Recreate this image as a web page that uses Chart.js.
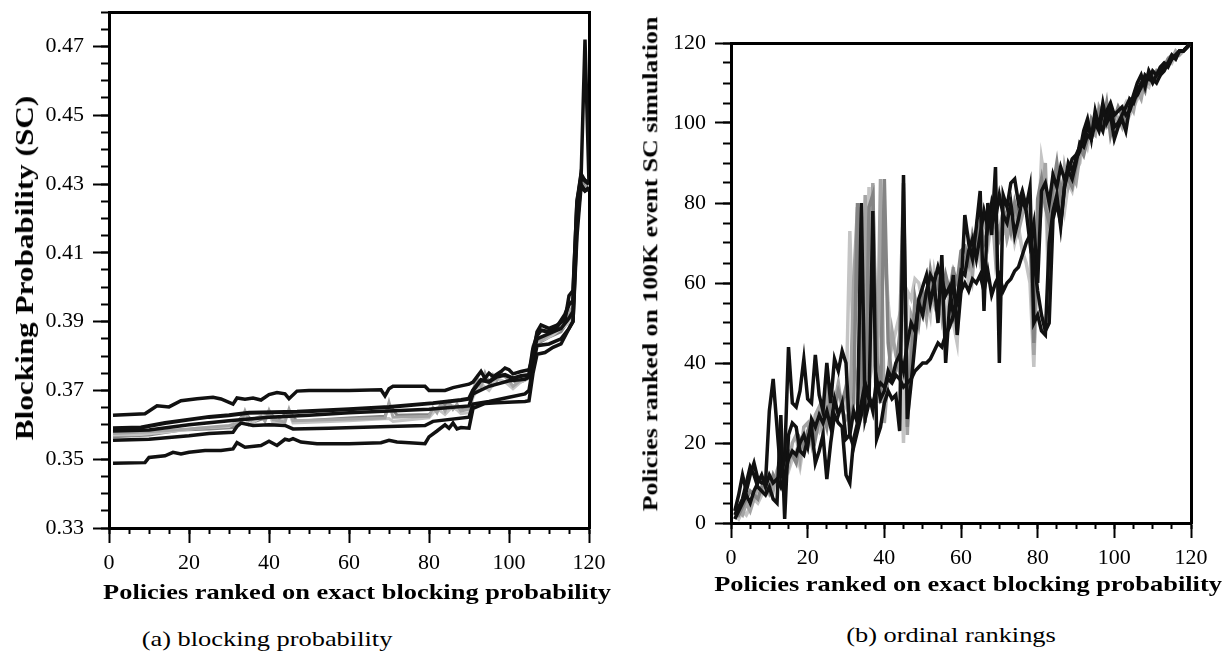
<!DOCTYPE html>
<html>
<head>
<meta charset="utf-8">
<script src="https://cdn.jsdelivr.net/npm/chart.js@4.4.1/dist/chart.umd.min.js"></script>
<style>
  html, body { margin: 0; padding: 0; background: #fff; }
  body { width: 1228px; height: 651px; position: relative; overflow: hidden; }
  canvas { position: absolute; top: 0; }
  #chartA { left: 0; }
  #chartB { left: 620px; }
  .ttl { position: absolute; white-space: nowrap; line-height: 1; color: #000;
         font-family: 'Liberation Serif', 'Times New Roman', serif; }
  .bold { font-weight: bold; font-size: 22px; }
  .cap { font-size: 22px; }
  .hz { transform: translate(-50%, 0) scaleX(1.2); }
  .rot { transform: translate(-50%, -50%) rotate(-90deg) scaleX(1.2); }
</style>
</head>
<body>
<canvas id="chartA" width="620" height="610"></canvas>
<canvas id="chartB" width="608" height="610"></canvas>

<div class="ttl bold rot" style="left:25px; top:268px; font-size:26px;">Blocking Probability (SC)</div>
<div class="ttl bold hz" style="left:357px; top:581px;">Policies ranked on exact blocking probability</div>
<div class="ttl cap hz" style="left:267px; top:628px;">(a) blocking probability</div>

<div class="ttl bold rot" style="left:651px; top:264px; font-size:21.5px;">Policies ranked on 100K event SC simulation</div>
<div class="ttl bold hz" style="left:968px; top:573px;">Policies ranked on exact blocking probability</div>
<div class="ttl cap hz" style="left:951px; top:624px;">(b) ordinal rankings</div>

<script>
// ── palette / fonts ─────────────────────────────────────────────
const INK   = "#000";
const BLACK = "#111";
const GRAY1 = "#c4c4c4";
const GRAY2 = "#a4a4a4";
const GRAY3 = "#848484";
const FONT  = "'Liberation Serif', 'Times New Roman', serif";

// ── (a) blocking probability: breakpoints ────────────────────────
const BP_Y_TICKS = [0.33, 0.35, 0.37, 0.39, 0.41, 0.43, 0.45, 0.47];

const upperX = [1, 9, 12, 15, 18, 22, 26, 28, 31, 32, 34, 36, 38, 40, 42, 44, 45, 47, 50, 60, 68, 69, 70, 71, 72, 79, 80, 84, 86, 90, 91, 93, 94, 95, 96, 98, 99, 100, 101, 103, 105, 106, 107, 108, 110, 112, 114, 115, 116, 117, 118, 119, 120];
const upperY = [0.3628, 0.3632, 0.3655, 0.3652, 0.3670, 0.3676, 0.3680, 0.3675, 0.3660, 0.3678, 0.3674, 0.3678, 0.3672, 0.3688, 0.3694, 0.3690, 0.3676, 0.3698, 0.3700, 0.3700, 0.3702, 0.3684, 0.3705, 0.3712, 0.3712, 0.3712, 0.3700, 0.3700, 0.3708, 0.3718, 0.3724, 0.3755, 0.3735, 0.3750, 0.3740, 0.3755, 0.3765, 0.3760, 0.3748, 0.3755, 0.3760, 0.3800, 0.3870, 0.3890, 0.3880, 0.3890, 0.3905, 0.3975, 0.3990, 0.4250, 0.4330, 0.4310, 0.4300];

const lowerX = [1, 9, 10, 14, 16, 18, 20, 24, 28, 31, 32, 34, 38, 40, 42, 44, 45, 46, 48, 52, 60, 68, 70, 72, 79, 80, 82, 84, 85, 86, 87, 88, 90, 91, 94, 97, 101, 104, 105, 106, 107, 109, 111, 113, 115, 116, 117, 118, 119, 120];
const lowerY = [0.3488, 0.3490, 0.3505, 0.3510, 0.3520, 0.3515, 0.3520, 0.3525, 0.3525, 0.3530, 0.3548, 0.3535, 0.3540, 0.3552, 0.3540, 0.3558, 0.3555, 0.3560, 0.3550, 0.3545, 0.3545, 0.3548, 0.3555, 0.3550, 0.3545, 0.3565, 0.3582, 0.3600, 0.3590, 0.3605, 0.3588, 0.3592, 0.3590, 0.3648, 0.3662, 0.3664, 0.3666, 0.3668, 0.3670, 0.3750, 0.3805, 0.3810, 0.3825, 0.3835, 0.3880, 0.3900, 0.4150, 0.4290, 0.4280, 0.4285];

const mid1X = [1, 8, 14, 20, 25, 30, 35, 47, 60, 70, 81, 88, 90, 91, 93, 95, 97, 99, 101, 103, 105, 106, 107, 108, 110, 112, 114, 115, 116, 117, 118, 119, 120];
const mid1Y = [0.3590, 0.3592, 0.3605, 0.3615, 0.3623, 0.3628, 0.3635, 0.3638, 0.3645, 0.3652, 0.3663, 0.3672, 0.3676, 0.3700, 0.3730, 0.3725, 0.3740, 0.3745, 0.3735, 0.3742, 0.3745, 0.3820, 0.3860, 0.3875, 0.3870, 0.3885, 0.3920, 0.3950, 0.3960, 0.4240, 0.4320, 0.4310, 0.4300];

const mid2X = [1, 10, 20, 30, 40, 50, 60, 70, 80, 90, 91, 95, 100, 104, 105, 106, 107, 109, 111, 113, 115, 116, 117, 118, 119, 120];
const mid2Y = [0.3582, 0.3585, 0.3600, 0.3612, 0.3622, 0.3628, 0.3635, 0.3640, 0.3645, 0.3655, 0.3690, 0.3712, 0.3728, 0.3732, 0.3738, 0.3800, 0.3850, 0.3860, 0.3870, 0.3880, 0.3910, 0.3930, 0.4200, 0.4310, 0.4720, 0.4300];

const mid3X = [1, 10, 20, 25, 31, 32, 33, 36, 40, 44, 46, 55, 70, 79, 81, 90, 91, 95, 100, 104, 105, 106, 107, 110, 113, 115, 116, 117, 118, 119, 120];
const mid3Y = [0.3555, 0.3558, 0.3568, 0.3575, 0.3578, 0.3595, 0.3605, 0.3598, 0.3600, 0.3598, 0.3588, 0.3590, 0.3595, 0.3598, 0.3610, 0.3622, 0.3660, 0.3668, 0.3680, 0.3690, 0.3700, 0.3770, 0.3830, 0.3835, 0.3850, 0.3880, 0.3900, 0.4180, 0.4300, 0.4280, 0.4290];

const grayAX = [1, 10, 20, 30, 33, 34, 35, 38, 39, 40, 41, 44, 45, 46, 55, 69, 70, 71, 80, 81, 82, 83, 84, 85, 86, 87, 88, 90, 91, 92, 93, 94, 95, 96, 97, 98, 99, 100, 101, 103, 105, 106, 107, 108, 110, 112, 114, 115, 116, 117, 118, 119, 120];
const grayAY = [0.3575, 0.3580, 0.3588, 0.3598, 0.3605, 0.3640, 0.3612, 0.3625, 0.3610, 0.3642, 0.3615, 0.3608, 0.3645, 0.3612, 0.3615, 0.3620, 0.3665, 0.3622, 0.3625, 0.3650, 0.3635, 0.3662, 0.3640, 0.3665, 0.3645, 0.3660, 0.3640, 0.3645, 0.3700, 0.3735, 0.3710, 0.3750, 0.3720, 0.3745, 0.3730, 0.3752, 0.3740, 0.3728, 0.3712, 0.3730, 0.3740, 0.3830, 0.3850, 0.3845, 0.3860, 0.3875, 0.3900, 0.3925, 0.3945, 0.4260, 0.4300, 0.4290, 0.4310];

const grayBX = [1, 8, 15, 22, 30, 34, 35, 37, 40, 41, 43, 45, 46, 60, 70, 71, 80, 82, 84, 86, 88, 90, 91, 93, 95, 97, 99, 101, 103, 105, 106, 107, 109, 111, 113, 115, 116, 117, 118, 119, 120];
const grayBY = [0.3570, 0.3572, 0.3580, 0.3590, 0.3595, 0.3625, 0.3600, 0.3615, 0.3632, 0.3605, 0.3610, 0.3635, 0.3605, 0.3612, 0.3618, 0.3610, 0.3620, 0.3648, 0.3630, 0.3655, 0.3632, 0.3635, 0.3680, 0.3720, 0.3700, 0.3735, 0.3725, 0.3705, 0.3725, 0.3735, 0.3810, 0.3840, 0.3850, 0.3862, 0.3880, 0.3895, 0.3915, 0.4230, 0.4300, 0.4280, 0.4300];

const grayCX = [1, 10, 18, 25, 31, 34, 36, 39, 40, 42, 45, 47, 60, 69, 70, 72, 80, 83, 85, 87, 90, 91, 94, 96, 98, 100, 102, 104, 105, 106, 107, 110, 113, 115, 116, 117, 118, 119, 120];
const grayCY = [0.3565, 0.3570, 0.3585, 0.3588, 0.3592, 0.3635, 0.3608, 0.3620, 0.3638, 0.3612, 0.3640, 0.3610, 0.3620, 0.3625, 0.3660, 0.3628, 0.3630, 0.3655, 0.3660, 0.3645, 0.3650, 0.3690, 0.3740, 0.3715, 0.3745, 0.3740, 0.3720, 0.3730, 0.3738, 0.3815, 0.3835, 0.3855, 0.3870, 0.3905, 0.3935, 0.4250, 0.4320, 0.4300, 0.4310];

// ── (b) ordinal rankings: one value per policy rank ──────────────
const RANK = [
  1, 2, 3, 4, 5, 6, 7, 8, 9, 10, 11, 12, 13, 14, 15, 16, 17, 18, 19, 20,
  21, 22, 23, 24, 25, 26, 27, 28, 29, 30, 31, 32, 33, 34, 35, 36, 37, 38, 39, 40,
  41, 42, 43, 44, 45, 46, 47, 48, 49, 50, 51, 52, 53, 54, 55, 56, 57, 58, 59, 60,
  61, 62, 63, 64, 65, 66, 67, 68, 69, 70, 71, 72, 73, 74, 75, 76, 77, 78, 79, 80,
  81, 82, 83, 84, 85, 86, 87, 88, 89, 90, 91, 92, 93, 94, 95, 96, 97, 98, 99, 100,
  101, 102, 103, 104, 105, 106, 107, 108, 109, 110, 111, 112, 113, 114, 115, 116, 117, 118, 119, 120
];

const simK1 = [
  3, 7, 12, 8, 12, 15, 11, 10, 10, 28,
  36, 24, 12, 16, 44, 30, 29, 33, 41, 31,
  30, 42, 32, 28, 40, 30, 41, 38, 43, 40,
  22, 19, 23, 27, 33, 31, 30, 33, 35, 34,
  36, 35, 37, 36, 34, 35, 36, 38, 39, 40,
  40, 41, 43, 45, 44, 47, 49, 52, 55, 58,
  60, 58, 61, 60, 62, 58, 63, 57, 60, 62,
  58, 60, 61, 63, 64, 67, 70, 72, 66, 58,
  52, 48, 50, 76, 80, 75, 84, 88, 86, 90,
  95, 94, 97, 96, 100, 98, 103, 101, 104, 99,
  100, 102, 104, 106, 105, 108, 110, 111, 112, 110,
  112, 113, 114, 115, 116, 117, 118, 118, 119, 120
];
const simK2 = [
  2, 4, 6, 10, 14, 12, 9, 8, 7, 9,
  6, 5, 27, 1, 22, 25, 24, 18, 17, 21,
  24, 15, 18, 22, 11, 20, 27, 25, 24, 12,
  10, 21, 25, 80, 26, 30, 78, 21, 24, 30,
  33, 31, 32, 23, 87, 26, 35, 45, 56, 59,
  62, 55, 60, 50, 67, 40, 54, 62, 47, 58,
  77, 70, 66, 74, 83, 53, 80, 72, 89, 40,
  82, 79, 85, 86, 80, 83, 79, 84, 50, 52,
  48, 47, 70, 78, 82, 74, 84, 90, 88, 91,
  93, 98, 101, 96, 103, 99, 105, 100, 102, 96,
  99, 101, 98, 104, 107, 110, 112, 109, 113, 111,
  110, 112, 113, 115, 117, 116, 118, 118, 119, 120
];
const simK3 = [
  1, 3, 5, 7, 5, 8, 10, 12, 9, 12,
  10, 11, 9, 12, 16, 18, 17, 20, 22, 19,
  26, 24, 27, 25, 28, 24, 31, 27, 30, 21,
  22, 28, 25, 30, 35, 32, 28, 36, 31, 33,
  38, 36, 40, 42, 38, 45, 50, 48, 55, 52,
  58, 62, 60, 64, 61, 57, 59, 52, 56, 63,
  62, 68, 71, 66, 72, 78, 74, 80, 76, 82,
  77, 75, 80, 72, 76, 81, 78, 70, 75, 60,
  83, 85, 80, 87, 84, 89, 86, 88, 91, 92,
  94, 96, 99, 97, 101, 100, 98, 103, 105, 102,
  103, 104, 102, 103, 106, 107, 109, 112, 111, 113,
  112, 114, 115, 114, 116, 117, 118, 118, 119, 120
];
const simG1 = [
  2, 1, 3, 2, 4, 6, 5, 7, 8, 7,
  9, 12, 14, 15, 13, 16, 18, 14, 20, 19,
  22, 25, 23, 26, 27, 30, 28, 32, 31, 29,
  73, 40, 35, 38, 36, 84, 40, 45, 50, 70,
  55, 44, 48, 52, 20, 58, 56, 61, 60, 55,
  57, 52, 63, 58, 61, 47, 60, 50, 45, 64,
  66, 60, 67, 70, 65, 72, 69, 75, 70, 74,
  73, 72, 76, 70, 74, 68, 65, 60, 39, 70,
  91, 85, 54, 88, 80, 84, 78, 85, 83, 88,
  90, 97, 94, 99, 102, 98, 100, 104, 101, 97,
  100, 103, 105, 102, 104, 106, 108, 110, 109, 112,
  111, 113, 114, 116, 115, 117, 118, 118, 119, 120
];
const simG2 = [
  1, 3, 2, 5, 3, 6, 9, 8, 10, 11,
  8, 13, 16, 11, 14, 20, 22, 16, 24, 25,
  20, 27, 29, 22, 33, 26, 30, 35, 28, 26,
  28, 60, 79, 30, 82, 35, 85, 30, 86, 25,
  37, 48, 42, 38, 70, 22, 52, 49, 54, 56,
  51, 59, 55, 62, 52, 60, 57, 64, 48, 66,
  64, 70, 62, 73, 68, 77, 71, 80, 66, 73,
  78, 71, 75, 79, 73, 77, 80, 76, 42, 68,
  80, 90, 62, 81, 86, 77, 89, 84, 87, 85,
  92, 95, 100, 98, 97, 104, 102, 99, 100, 98,
  101, 99, 104, 105, 103, 108, 106, 111, 110, 113,
  112, 113, 115, 115, 116, 118, 117, 118, 119, 120
];
const simG3 = [
  3, 2, 4, 6, 8, 7, 6, 9, 11, 8,
  12, 10, 15, 13, 18, 17, 15, 21, 19, 23,
  25, 21, 26, 28, 24, 31, 29, 33, 30, 34,
  24, 30, 80, 35, 25, 79, 82, 42, 30, 86,
  45, 36, 38, 47, 85, 24, 40, 56, 50, 58,
  54, 63, 57, 60, 56, 62, 58, 63, 60, 68,
  69, 65, 72, 68, 75, 70, 73, 77, 74, 71,
  75, 78, 73, 80, 76, 82, 78, 74, 45, 81,
  86, 79, 75, 84, 90, 82, 87, 86, 84, 89,
  94, 92, 96, 101, 99, 103, 100, 105, 97, 101,
  104, 102, 100, 106, 105, 107, 110, 108, 113, 111,
  113, 112, 114, 116, 117, 116, 118, 118, 119, 120
];

// ── helpers ─────────────────────────────────────────────────────
function pts(xs, ys) {
  return xs.map((x, i) => ({ x: x, y: ys[i] }));
}

function line(xs, ys, color, width) {
  return {
    data: pts(xs, ys),
    borderColor: color,
    borderWidth: width || 3,
    pointRadius: 0,
    tension: 0,
    fill: false,
  };
}

function noPad(s) {
  s.paddingTop = 0; s.paddingBottom = 0; s.paddingLeft = 0; s.paddingRight = 0;
}

// Four-sided frame: outer axes carry labels and long ticks, inner
// (zero-size) axes carry the short minor ticks, top/right close the box.
function frameScales(cfg) {
  const tickFont = { family: FONT, size: 22 };
  return {
    x: {
      type: "linear", position: "bottom", weight: 1,
      min: cfg.xMin, max: cfg.xMax,
      ticks: { stepSize: cfg.xStep, color: INK, font: tickFont, padding: 7, maxRotation: 0 },
      grid: { drawOnChartArea: false, tickLength: 15, tickWidth: 2, tickColor: INK },
      border: { display: true, color: INK, width: 3 },
      afterFit: (s) => { s.height = cfg.xHeight; noPad(s); },
    },
    xMinor: {
      type: "linear", position: "bottom", weight: 0,
      min: cfg.xMin, max: cfg.xMax,
      ticks: { display: false, stepSize: cfg.xMinorStep },
      grid: { drawOnChartArea: false, tickLength: 6, tickWidth: 2, tickColor: INK },
      border: { display: false },
      afterFit: (s) => { s.height = 0; noPad(s); },
    },
    xTop: {
      type: "linear", position: "top",
      min: cfg.xMin, max: cfg.xMax,
      ticks: { display: false },
      grid: { drawOnChartArea: false, drawTicks: false },
      border: { display: true, color: INK, width: 3 },
      afterFit: (s) => { s.height = 0; noPad(s); },
    },
    y: {
      type: "linear", position: "left", weight: 1,
      min: cfg.yMin, max: cfg.yMax,
      ticks: { color: INK, font: tickFont, padding: 9, callback: cfg.yFormat },
      afterBuildTicks: (s) => { s.ticks = cfg.yTicks.map((v) => ({ value: v })); },
      grid: { drawOnChartArea: false, tickLength: 16, tickWidth: 2, tickColor: INK },
      border: { display: true, color: INK, width: 3 },
      afterFit: (s) => { s.width = cfg.yWidth; noPad(s); },
    },
    yMinor: {
      type: "linear", position: "left", weight: 0,
      min: cfg.yMin, max: cfg.yMax,
      ticks: { display: false, stepSize: cfg.yMinorStep },
      grid: { drawOnChartArea: false, tickLength: 8, tickWidth: 2, tickColor: INK },
      border: { display: false },
      afterFit: (s) => { s.width = 0; noPad(s); },
    },
    yRight: {
      type: "linear", position: "right",
      min: cfg.yMin, max: cfg.yMax,
      ticks: { display: false },
      grid: { drawOnChartArea: false, drawTicks: false },
      border: { display: true, color: INK, width: 3 },
      afterFit: (s) => { s.width = 0; noPad(s); },
    },
  };
}

function baseOptions(padding, scales) {
  return {
    responsive: false,
    animation: false,
    devicePixelRatio: 1,
    layout: { padding: padding },
    plugins: { legend: { display: false }, tooltip: { enabled: false } },
    scales: scales,
  };
}

// ── chart (a) ───────────────────────────────────────────────────
new Chart(document.getElementById("chartA"), {
  type: "line",
  data: {
    datasets: [
      line(upperX, upperY, BLACK, 3.5),
      line(lowerX, lowerY, BLACK, 3.5),
      line(mid1X, mid1Y, BLACK, 4),
      line(mid2X, mid2Y, BLACK, 3.5),
      line(mid3X, mid3Y, BLACK, 3.5),
      line(grayAX, grayAY, GRAY2),
      line(grayBX, grayBY, GRAY1),
      line(grayCX, grayCY, GRAY3),
    ],
  },
  options: baseOptions(
    { left: 0, right: 31, top: 12, bottom: 0 },
    frameScales({
      xMin: 0, xMax: 120, xStep: 20, xMinorStep: 5, xHeight: 82,
      yMin: 0.33, yMax: 0.48, yMinorStep: 0.005, yWidth: 109,
      yTicks: BP_Y_TICKS,
      yFormat: (v) => Number(v).toFixed(2),
    })
  ),
});

// ── chart (b) ───────────────────────────────────────────────────
const RANK_Y_TICKS = [0, 20, 40, 60, 80, 100, 120];

new Chart(document.getElementById("chartB"), {
  type: "line",
  data: {
    datasets: [
      line(RANK, simK1, BLACK, 3.5),
      line(RANK, simK2, BLACK, 3.5),
      line(RANK, simK3, BLACK, 3.5),
      line(RANK, simG3, GRAY3, 3.5),
      line(RANK, simG2, GRAY2, 3.5),
      line(RANK, simG1, GRAY1, 3.5),
    ],
  },
  options: baseOptions(
    { left: 0, right: 37, top: 43, bottom: 0 },
    frameScales({
      xMin: 0, xMax: 120, xStep: 20, xMinorStep: 5, xHeight: 87,
      yMin: 0, yMax: 120, yMinorStep: 5, yWidth: 111,
      yTicks: RANK_Y_TICKS,
      yFormat: (v) => String(v),
    })
  ),
});
</script>
</body>
</html>
